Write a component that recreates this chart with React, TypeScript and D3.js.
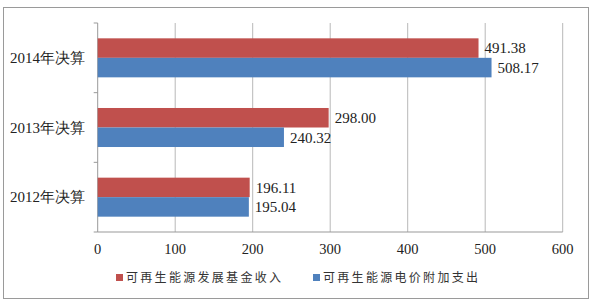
import React from "react";
import * as d3 from "d3";

const categories = ["2014年决算", "2013年决算", "2012年决算"];
const seriesNames = ["可再生能源发展基金收入", "可再生能源电价附加支出"];
const income = [491.38, 298.0, 196.11];
const expense = [508.17, 240.32, 195.04];
const xTicks = [0, 100, 200, 300, 400, 500, 600];
const colors = ["#C0504D", "#4F81BD"];

export default function App() {
  const W = 600, H = 307;
  const left = 97.7, right = 562.7, top = 23, bottom = 232;
  const x = d3.scaleLinear().domain([0, 600]).range([left, right]);
  const y = d3.scaleBand().domain(categories).range([top, bottom]).paddingInner(0.44).paddingOuter(0.22);
  const sub = d3.scaleBand().domain(seriesNames).range([0, y.bandwidth()]);
  const series = [income, expense];
  const outer = d3.scaleBand().domain(categories).range([top, bottom]);
  const serif = "'Liberation Serif', 'Times New Roman', serif";
  return (
    <svg width={W} height={H} style={{ position: "absolute", left: 0, top: 0, background: "#fff" }}>
      <rect x={3.5} y={7.5} width={585} height={291} fill="#fff" stroke="#9a9a9a" strokeWidth={1} />
      {xTicks.slice(1).map((t) => (
        <line key={t} x1={x(t)} x2={x(t)} y1={top} y2={bottom} stroke="#b8b8b8" strokeWidth={1} />
      ))}
      <line x1={left} x2={left} y1={top} y2={bottom} stroke="#999" />
      <line x1={left} x2={right} y1={bottom} y2={bottom} stroke="#999" />
      {[...categories.map((c) => outer(c) as number), bottom].map((v, i) => (
        <line key={i} x1={left - 4} x2={left} y1={v} y2={v} stroke="#999" />
      ))}
      {categories.map((c, ci) =>
        series.map((s, si) => {
          const yy = (y(c) as number) + (sub(seriesNames[si]) as number);
          return (
            <g key={c + si}>
              <rect x={x(0)} y={yy} width={x(s[ci]) - x(0)} height={sub.bandwidth()} fill={colors[si]} />
              <text x={x(s[ci]) + 6} y={yy + sub.bandwidth() / 2} dy="0.35em" fontFamily={serif} fontSize={15} fill="#222">
                {s[ci].toFixed(2)}
              </text>
            </g>
          );
        })
      )}
      {categories.map((c) => (
        <text key={c} x={85} y={(y(c) as number) + y.bandwidth() / 2} dy="0.35em" textAnchor="end" fontFamily={serif} fontSize={15} fill="#222">
          {c}
        </text>
      ))}
      {xTicks.map((t) => (
        <text key={t} x={x(t)} y={249} dy="0.35em" textAnchor="middle" fontFamily={serif} fontSize={14.5} fill="#222">
          {t}
        </text>
      ))}
      {seriesNames.map((n, i) => {
        const lx = i === 0 ? 116 : 313;
        return (
          <g key={n}>
            <rect x={lx} y={274} width={7} height={7} fill={colors[i]} />
            <text x={lx + 10} y={278} dy="0.35em" fontFamily="'Noto Sans CJK SC', sans-serif" fontSize={12} letterSpacing={2.3} fill="#333">
              {n}
            </text>
          </g>
        );
      })}
    </svg>
  );
}
